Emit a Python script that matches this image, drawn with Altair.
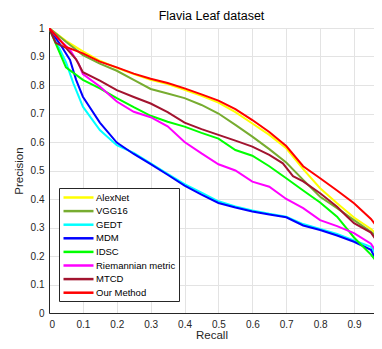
import altair as alt
import pandas as pd

methods = ["AlexNet", "VGG16", "GEDT", "MDM", "IDSC", "Riemannian metric", "MTCD", "Our Method"]
colors = ["#FFFF00", "#77AC30", "#00FFFF", "#0000FF", "#00FF00", "#FF00FF", "#A2142F", "#FF0000"]

alexnet_r = [0, 0.05, 0.1, 0.15, 0.2, 0.25, 0.3, 0.35, 0.4, 0.45, 0.5, 0.55, 0.6, 0.65, 0.7, 0.75, 0.8, 0.85, 0.9, 0.95, 0.98]
alexnet_p = [1, 0.955, 0.918, 0.885, 0.86, 0.838, 0.818, 0.803, 0.783, 0.762, 0.738, 0.705, 0.665, 0.625, 0.578, 0.505, 0.438, 0.385, 0.335, 0.295, 0.262]

vgg16_r = [0, 0.05, 0.1, 0.15, 0.2, 0.25, 0.3, 0.35, 0.4, 0.45, 0.5, 0.55, 0.6, 0.65, 0.7, 0.75, 0.8, 0.85, 0.9, 0.95, 0.98]
vgg16_p = [1, 0.952, 0.905, 0.875, 0.85, 0.818, 0.786, 0.77, 0.754, 0.73, 0.70, 0.66, 0.619, 0.575, 0.528, 0.467, 0.408, 0.368, 0.326, 0.285, 0.256]

gedt_r = [0, 0.03, 0.05, 0.072, 0.1, 0.15, 0.2, 0.25, 0.3, 0.35, 0.4, 0.45, 0.5, 0.55, 0.6, 0.65, 0.7, 0.75, 0.8, 0.85, 0.9, 0.95, 0.98]
gedt_p = [1, 0.93, 0.88, 0.806, 0.724, 0.642, 0.589, 0.562, 0.525, 0.488, 0.452, 0.422, 0.392, 0.374, 0.36, 0.348, 0.338, 0.312, 0.295, 0.277, 0.255, 0.232, 0.18]

mdm_r = [0, 0.04, 0.062, 0.08, 0.1, 0.15, 0.2, 0.25, 0.3, 0.35, 0.4, 0.45, 0.5, 0.55, 0.6, 0.65, 0.7, 0.75, 0.8, 0.85, 0.9, 0.95, 0.98]
mdm_p = [1, 0.93, 0.888, 0.818, 0.759, 0.668, 0.598, 0.558, 0.522, 0.485, 0.447, 0.415, 0.386, 0.37, 0.356, 0.346, 0.336, 0.307, 0.291, 0.272, 0.25, 0.222, 0.15]

idsc_r = [0, 0.05, 0.1, 0.15, 0.2, 0.25, 0.3, 0.35, 0.4, 0.45, 0.5, 0.55, 0.6, 0.65, 0.7, 0.75, 0.8, 0.85, 0.9, 0.95, 0.98]
idsc_p = [1, 0.862, 0.818, 0.788, 0.754, 0.722, 0.692, 0.671, 0.654, 0.632, 0.612, 0.572, 0.552, 0.515, 0.473, 0.43, 0.388, 0.338, 0.265, 0.205, 0.16]

riem_r = [0, 0.03, 0.062, 0.087, 0.1, 0.15, 0.2, 0.25, 0.3, 0.35, 0.4, 0.45, 0.5, 0.55, 0.6, 0.65, 0.7, 0.75, 0.8, 0.85, 0.9, 0.95, 0.98]
riem_p = [1, 0.96, 0.923, 0.876, 0.838, 0.795, 0.742, 0.706, 0.687, 0.655, 0.60, 0.56, 0.522, 0.50, 0.461, 0.443, 0.40, 0.368, 0.326, 0.305, 0.28, 0.243, 0.19]

mtcd_r = [0, 0.02, 0.05, 0.08, 0.1, 0.15, 0.2, 0.25, 0.3, 0.35, 0.4, 0.45, 0.5, 0.55, 0.6, 0.65, 0.69, 0.72, 0.75, 0.8, 0.85, 0.88, 0.9, 0.95, 0.97, 0.98]
mtcd_p = [1, 0.948, 0.93, 0.89, 0.845, 0.815, 0.782, 0.758, 0.735, 0.705, 0.668, 0.645, 0.625, 0.605, 0.584, 0.555, 0.525, 0.48, 0.462, 0.42, 0.373, 0.338, 0.315, 0.282, 0.248, 0.235]

ours_r = [0, 0.05, 0.1, 0.15, 0.2, 0.25, 0.3, 0.35, 0.4, 0.45, 0.5, 0.55, 0.6, 0.65, 0.7, 0.75, 0.8, 0.85, 0.9, 0.95, 0.98]
ours_p = [1, 0.934, 0.911, 0.882, 0.862, 0.84, 0.822, 0.807, 0.788, 0.767, 0.745, 0.715, 0.677, 0.635, 0.586, 0.515, 0.473, 0.43, 0.385, 0.33, 0.285]

tick_values = [0, 0.1, 0.2, 0.3, 0.4, 0.5, 0.6, 0.7, 0.8, 0.9, 1]

series = [
    (alexnet_r, alexnet_p), (vgg16_r, vgg16_p), (gedt_r, gedt_p), (mdm_r, mdm_p),
    (idsc_r, idsc_p), (riem_r, riem_p), (mtcd_r, mtcd_p), (ours_r, ours_p),
]
rows = []
for k, (name, (rs, ps)) in enumerate(zip(methods, series)):
    for i, (r, p) in enumerate(zip(rs, ps)):
        rows.append({"Method": name, "Recall": r, "Precision": p, "idx": i, "z": k})
df = pd.DataFrame(rows)

FONT = "Liberation Sans"
W, H = 325, 285

chart = alt.Chart(df).mark_line(strokeWidth=2, clip=True).encode(
    x=alt.X("Recall:Q", title="Recall",
            scale=alt.Scale(domain=[0, 0.959], nice=False, zero=False),
            axis=alt.Axis(values=tick_values[:-1], format="~g", ticks=False, labelPadding=6,
                          titlePadding=0, labelOverlap=False)),
    y=alt.Y("Precision:Q", title="Precision",
            scale=alt.Scale(domain=[0, 1], nice=False),
            axis=alt.Axis(values=tick_values, tickCount=11, format="~g", ticks=False,
                          labelPadding=5, titlePadding=6, labelOverlap=False)),
    color=alt.Color("Method:N", sort=methods,
                    scale=alt.Scale(domain=methods, range=colors),
                    legend=alt.Legend(orient="none", legendX=10, legendY=160, title=None,
                                      symbolType="M-1,0H5", symbolSize=100, symbolStrokeWidth=2.5,
                                      labelFont=FONT, labelFontSize=9.5, labelColor="#000000",
                                      fillColor="white", strokeColor="#262626", padding=3,
                                      rowPadding=1.6, labelOffset=21)),
    order=alt.Order("idx:Q"),
    detail="z:O",
).properties(
    width=W, height=H,
    title=alt.TitleParams("Flavia Leaf dataset", fontSize=12.5, fontWeight="normal", font=FONT,
                          color="#000000", anchor="middle", frame="group", offset=1),
    autosize=alt.AutoSizeParams(type="none"),
    padding={"left": 41, "top": 20, "right": 0, "bottom": 26},
).configure_view(
    stroke="#262626", strokeWidth=1, strokeDash=[W, H]
).configure_axis(
    domainColor="#262626", labelColor="#262626", titleColor="#262626",
    labelFont=FONT, titleFont=FONT, labelFontSize=10, titleFontSize=11.5,
    titleFontWeight="normal", gridColor="#E3E3E3", gridWidth=1
)

chart.save("out.html", embed_options={"renderer": "svg", "actions": False})
